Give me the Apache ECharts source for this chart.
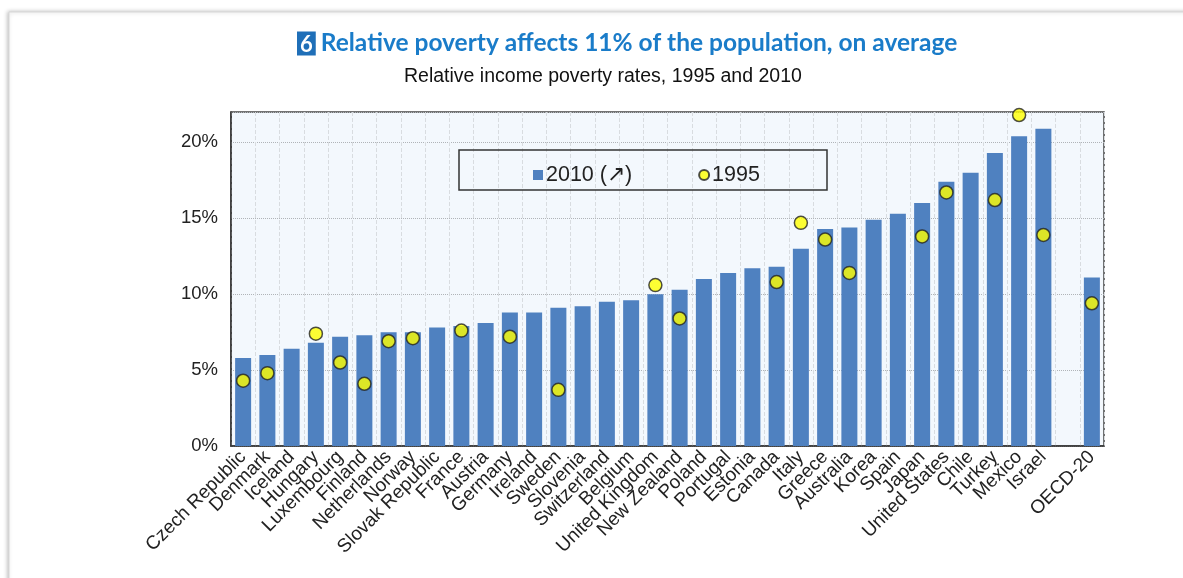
<!DOCTYPE html>
<html>
<head>
<meta charset="utf-8">
<script src="https://cdn.jsdelivr.net/npm/echarts@6/dist/echarts.min.js"></script>
<style>
html,body{margin:0;padding:0;background:#fff;}
#main{width:1183px;height:578px;}
</style>
</head>
<body>
<div id="main"></div>
<script>
const categories = ['Czech Republic','Denmark','Iceland','Hungary','Luxembourg','Finland','Netherlands','Norway','Slovak Republic','France','Austria','Germany','Ireland','Sweden','Slovenia','Switzerland','Belgium','United Kingdom','New Zealand','Poland','Portugal','Estonia','Canada','Italy','Greece','Australia','Korea','Spain','Japan','United States','Chile','Turkey','Mexico','Israel','','OECD-20'];
const values2010 = [5.8,6.0,6.4,6.8,7.2,7.3,7.5,7.5,7.8,7.9,8.1,8.8,8.8,9.1,9.2,9.5,9.6,10.0,10.3,11.0,11.4,11.7,11.8,13.0,14.3,14.4,14.9,15.3,16.0,17.4,18.0,19.3,20.4,20.9,null,11.1];
const values1995 = [4.3,4.8,null,7.4,5.5,4.1,6.9,7.1,null,7.6,null,7.2,null,3.7,null,null,null,10.6,8.4,null,null,null,10.8,14.7,13.6,11.4,null,null,13.8,16.7,null,16.2,21.8,13.9,null,9.4];
const yTicks = [0,5,10,15,20];

const chart = echarts.init(document.getElementById('main'));
chart.setOption({
  backgroundColor:'#fff',
  animation:false,
  graphic:[
    {type:'rect', shape:{x:9,y:12,width:1220,height:620}, style:{fill:'#fff', stroke:'#d8d8d8', lineWidth:1, shadowBlur:4, shadowColor:'rgba(0,0,0,0.25)', shadowOffsetX:-1, shadowOffsetY:0}, z:-10},
    {type:'rect', shape:{x:459,y:150,width:368,height:40}, style:{fill:'rgba(0,0,0,0)', stroke:'#333', lineWidth:1.5}, z:10}
  ],
  title:[
    {text:'{b|6} {t|Relative poverty affects 11% of the population, on average}', left:292, top:26,
     textStyle:{rich:{
       b:{backgroundColor:'#1f6fb8', color:'#fff', fontSize:22, fontWeight:'bold', fontFamily:'Lato', padding:[2,3,0,3]},
       t:{color:'#1a7cc9', fontSize:24.5, fontWeight:'bold', fontFamily:'Lato'}
     }}},
    {text:'Relative income poverty rates, 1995 and 2010', left:399, top:62,
     textStyle:{color:'#111', fontSize:19.5, fontWeight:'normal', fontFamily:'Liberation Sans'}}
  ],
  legend:{
    left:528, top:159, itemGap:66, itemWidth:10, itemHeight:10,
    textStyle:{fontSize:21.5, color:'#222', fontFamily:'Liberation Sans', padding:[0,0,0,-2]},
    data:[{name:'2010 (↗)', icon:'rect'},{name:'1995', icon:'circle'}]
  },
  grid:{left:231, right:79, top:112, bottom:132, show:true, backgroundColor:'#f3f8fd', borderColor:'#444', borderWidth:1.5},
  xAxis:{
    type:'category', data:categories, boundaryGap:true,
    axisLine:{show:true, lineStyle:{color:'#333', width:1.5}},
    axisTick:{show:false},
    axisLabel:{interval:0, rotate:45, fontSize:19, color:'#222', fontFamily:'Liberation Sans', margin:8},
    splitLine:{show:true, interval:0, lineStyle:{color:'#d8dce0', type:'dashed', width:1}}
  },
  yAxis:{
    type:'value', min:0, max:22, interval:5,
    axisLine:{show:true, lineStyle:{color:'#333', width:1.5}},
    axisTick:{show:false},
    axisLabel:{fontSize:18.5, color:'#222', fontFamily:'Liberation Sans', margin:13,
      formatter:function(v){return yTicks.indexOf(v)>=0 ? v+'%' : '';}},
    splitLine:{show:true, lineStyle:{color:'#b0b4b8', type:'dotted', width:1}}
  },
  series:[
    {name:'2010 (↗)', type:'bar', data:values2010, barWidth:16, itemStyle:{color:'#4f81c0'}, z:2},
    {name:'1995', type:'scatter', data:values1995, symbol:'circle', symbolSize:13,
     itemStyle:{color:'#ffff00', borderColor:'#222', borderWidth:1.5}, z:5}
  ]
});
</script>
</body>
</html>
